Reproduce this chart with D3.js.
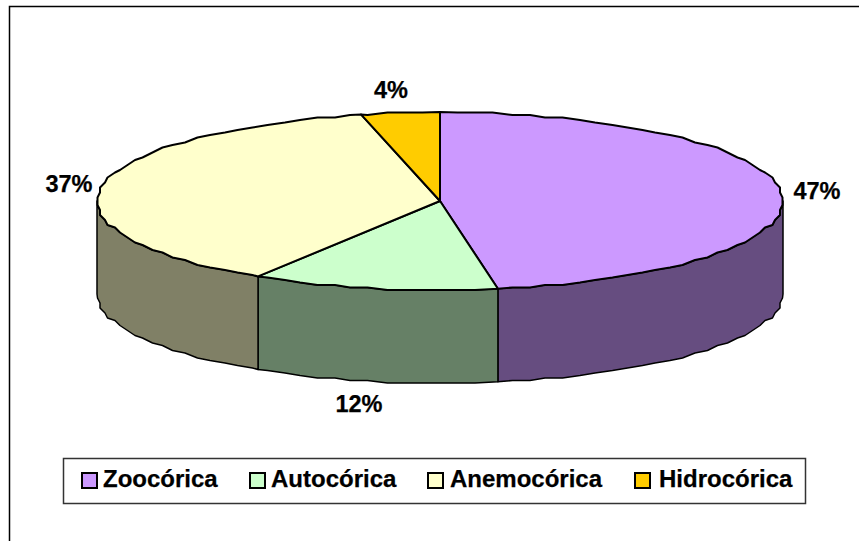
<!DOCTYPE html>
<html>
<head>
<meta charset="utf-8">
<script src="https://cdn.jsdelivr.net/npm/d3@7"></script>
<style>
  html, body { margin: 0; padding: 0; background: #fff; overflow: hidden; }
  svg { display: block; }
  text { font-family: "Liberation Sans", Arial, sans-serif; font-weight: bold; fill: #000; stroke: #000; stroke-width: 0.25px; }
</style>
</head>
<body>
<script>
// data
var categories = ["Zoocórica", "Autocórica", "Anemocórica", "Hidrocórica"];
var shares = [47.3, 11.6, 37.4, 3.7];
var labels = ["47%", "12%", "37%", "4%"];
var colors = ["#CC99FF", "#CCFFCC", "#FFFFCC", "#FFCC00"];
var sideColors = ["#664D80", "#668066", "#808066", "#806600"];

var w = 859, h = 541;
var cx = 440, cy = 201, rx = 343, ry = 89, depth = 93;

var svg = d3.select("body").append("svg").attr("width", w).attr("height", h);

// chart frame, right and bottom edges run off the page
svg.append("path")
    .attr("d", "M9.5," + h + "V6.5H" + w)
    .attr("fill", "none")
    .attr("stroke", "#000")
    .attr("stroke-width", 1.5);

var pie = d3.pie().sort(null)(shares);

// angle 0 is straight up, going clockwise
function px(a) { return cx + rx * Math.sin(a); }
function py(a) { return cy - ry * Math.cos(a); }

var line = d3.line().x(function(d) { return d[0]; }).y(function(d) { return d[1]; });

// the original outline is a rough polygon: a vertex every 3 degrees, snapped to a small grid
var step = Math.PI / 60, grid = 2.5;
function snap(v) { return Math.round(v / grid) * grid; }

function arcPoints(a0, a1, dy) {
    var lo = Math.min(a0, a1), hi = Math.max(a0, a1);
    var inner = d3.range(Math.ceil(lo / step + 0.3), hi / step - 0.3).map(function(k) {
        return [snap(px(k * step)), snap(py(k * step)) + dy];
    });
    if (a0 > a1) inner.reverse();
    return [[px(a0), py(a0) + dy]].concat(inner, [[px(a1), py(a1) + dy]]);
}

// ----- side wall, only the part facing the viewer -----
var sides = svg.append("g").attr("stroke", "#000").attr("stroke-width", 1.5).attr("stroke-linejoin", "round");
pie.forEach(function(d, i) {
    var a0 = Math.max(d.startAngle, Math.PI / 2);
    var a1 = Math.min(d.endAngle, Math.PI * 1.5);
    if (a0 >= a1) return;
    var top = arcPoints(a0, a1, 0);
    var bottom = arcPoints(a1, a0, depth);
    sides.append("path")
        .attr("d", line(top.concat(bottom)) + "Z")
        .attr("fill", sideColors[i]);
});

// ----- top face -----
var faces = svg.append("g").attr("stroke", "#000").attr("stroke-width", 2).attr("stroke-linejoin", "round");
pie.forEach(function(d, i) {
    var pts = [[cx, cy]].concat(arcPoints(d.startAngle, d.endAngle, 0));
    faces.append("path")
        .attr("d", line(pts) + "Z")
        .attr("fill", colors[i]);
});

// ----- percent labels -----
var labelPos = [[817, 199], [359, 412], [69, 192], [391, 98]];
svg.selectAll(".pct")
    .data(labels)
    .enter().append("text")
    .attr("class", "pct")
    .attr("x", function(d, i) { return labelPos[i][0]; })
    .attr("y", function(d, i) { return labelPos[i][1]; })
    .attr("text-anchor", "middle")
    .style("font-size", "23.5px")
    .text(function(d) { return d; });

// ----- legend -----
svg.append("rect")
    .attr("x", 63.5).attr("y", 458.5)
    .attr("width", 742).attr("height", 45)
    .attr("fill", "#fff")
    .attr("stroke", "#333")
    .attr("stroke-width", 1.5);

var legendSwatchX = [82, 250, 428, 635];
var legendTextX = [103, 271, 450, 659];
var legend = svg.selectAll(".legend")
    .data(categories)
    .enter().append("g")
    .attr("class", "legend");

legend.append("rect")
    .attr("x", function(d, i) { return legendSwatchX[i]; })
    .attr("y", 473)
    .attr("width", 15).attr("height", 15)
    .attr("fill", function(d, i) { return colors[i]; })
    .attr("stroke", "#000")
    .attr("stroke-width", 2);

legend.append("text")
    .attr("x", function(d, i) { return legendTextX[i]; })
    .attr("y", 487)
    .style("font-size", "24px")
    .text(function(d) { return d; });
</script>
</body>
</html>
